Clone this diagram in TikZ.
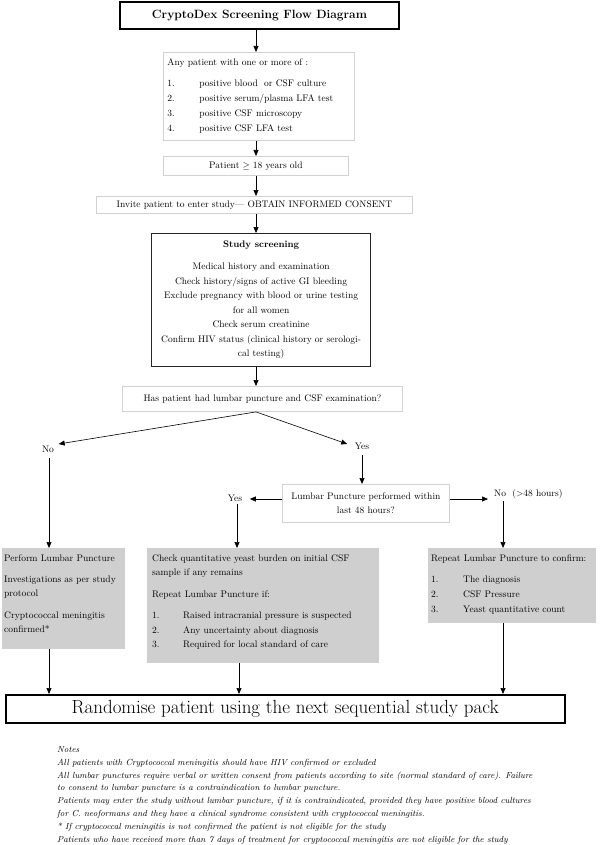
\documentclass[tikz,border=0pt]{standalone}
\usetikzlibrary{arrows.meta}
\newcommand\bodyfont{\fontsize{9.5}{14}\selectfont}
\tikzset{
  titlebox/.style={draw=black, line width=2pt, inner sep=0pt, font=\fontsize{12}{14}\selectfont\bfseries},
  lightbox/.style={draw=black!18, line width=0.9pt, inner sep=0pt, font=\bodyfont},
  darkbox/.style={draw=black!85, line width=1.2pt, inner sep=0pt},
  greybox/.style={fill=gray!38, draw=none, inner sep=0pt},
  randbox/.style={draw=black, line width=1.5pt, inner sep=0pt, font=\fontsize{19}{21}\selectfont},
  txt/.style={inner sep=0pt, align=left, font=\bodyfont},
  lab/.style={inner sep=2.5pt, font=\bodyfont},
  arr/.style={-{Triangle[length=6pt,width=5pt]}, line width=0.7pt},
  diag/.style={-{Triangle[length=6pt,width=5pt]}, line width=0.6pt}
}
\newcommand\numitem[1]{\makebox[32pt][l]{#1}}
\newcommand\numitemb[1]{\makebox[31pt][l]{#1}}
\begin{document}
\begin{tikzpicture}[x=1pt,y=-1pt]
\useasboundingbox (0,0) rectangle (600,845);
\fill[white] (0,0) rectangle (600,845);
\coordinate (ax) at (256,0);
\coordinate (ay) at (0,499);
\coordinate (d1) at (49,0);
\coordinate (d2) at (237,0);
\coordinate (d2b) at (239,0);
\coordinate (d3) at (503,0);

% title
\node[titlebox, anchor=north west, minimum width=279, minimum height=27] (title) at (119,1) {CryptoDex Screening Flow Diagram};

% criteria
\node[lightbox, anchor=north west, text width=183, inner xsep=4pt, minimum height=88, align=left, font=\fontsize{9.5}{15}\selectfont] (crit) at (163,52)
  {Any patient with one or more of :\\[6pt]
   \numitem{1.}positive blood\ \ or CSF culture\\
   \numitem{2.}positive serum/plasma LFA test\\
   \numitem{3.}positive CSF microscopy\\
   \numitem{4.}positive CSF LFA test};

\node[lightbox, anchor=north west, minimum width=185, minimum height=19] (age) at (163,156) {Patient $\geq$ 18 years old};

\node[lightbox, anchor=north west, minimum width=316, minimum height=17] (consent) at (96,196) {Invite patient to enter study--- OBTAIN INFORMED CONSENT};

\node[darkbox, anchor=north west, minimum width=219, minimum height=133, align=center, font=\fontsize{9.5}{14.5}\selectfont] (screen) at (151,233)
  {\textbf{Study screening}\\[7.5pt]
   Medical history and examination\\
   Check history/signs of active GI bleeding\\
   Exclude pregnancy with blood or urine testing\\
   for all women\\
   Check serum creatinine\\
   Confirm HIV status (clinical history or serologi-\\
   cal testing)};

\node[lightbox, anchor=north west, minimum width=280, minimum height=25] (quest) at (122,386) {Has patient had lumbar puncture and CSF examination?};

% branch labels
\node[lab] (no1) at (48,449) {No};
\node[lab] (yes1) at (362,446) {Yes};

\node[lightbox, anchor=north west, minimum width=167, minimum height=38, align=center] (lp) at (282,484) {Lumbar Puncture performed within\\ last 48 hours?};

\node[lab] (yes2) at (235,498) {Yes};
\node[lab, anchor=west] (no2) at (491.5,494) {No\ \ (>48 hours)};

% grey boxes
\node[greybox, anchor=north west, minimum width=123, minimum height=101] (g1) at (2,548) {};
\node[greybox, anchor=north west, minimum width=232, minimum height=115] (g2) at (147,548) {};
\node[greybox, anchor=north west, minimum width=168, minimum height=75] (g3) at (428,548) {};

\node[txt, anchor=north west] (g1t) at (4,555)
  {Perform Lumbar Puncture\\[7pt]
   Investigations as per study\\
   protocol\\[8pt]
   Cryptococcal meningitis\\
   confirmed*};
\node[txt, anchor=north west] (g2t) at (152,555)
  {Check quantitative yeast burden on initial CSF\\
   sample if any remains\\[8pt]
   Repeat Lumbar Puncture if:\\[7pt]
   \numitemb{1.}Raised intracranial pressure is suspected\\[0.5pt]
   \numitemb{2.}Any uncertainty about diagnosis\\[0.5pt]
   \numitemb{3.}Required for local standard of care};
\node[txt, anchor=north west] (g3t) at (431,555)
  {Repeat Lumbar Puncture to confirm:\\[7pt]
   \numitem{1.}The diagnosis\\[1pt]
   \numitem{2.}CSF Pressure\\[1pt]
   \numitem{3.}Yeast quantitative count};

\node[randbox, anchor=north west, minimum width=559, minimum height=28] (rand) at (5,694) {Randomise patient using the next sequential study pack};

% notes
\node[anchor=north west, inner sep=0pt, align=left, font=\fontsize{8.8}{12.9}\selectfont\itshape] (notes) at (57,746)
  {Notes\\
   All patients with Cryptococcal meningitis should have HIV confirmed or excluded\\
   All lumbar punctures require verbal or written consent from patients according to site (normal standard of care). Failure\\
   to consent to lumbar puncture is a contraindication to lumbar puncture.\\
   Patients may enter the study without lumbar puncture, if it is contraindicated, provided they have positive blood cultures\\
   for C. neoformans and they have a clinical syndrome consistent with cryptococcal meningitis.\\
   * If cryptococcal meningitis is not confirmed the patient is not eligible for the study\\
   Patients who have received more than 7 days of treatment for cryptococcal meningitis are not eligible for the study};

% connectors
\draw[arr] (title.south -| ax) -- (crit.north -| ax);
\draw[arr] (crit.south -| ax) -- (age.north -| ax);
\draw[arr] (age.south -| ax) -- (consent.north -| ax);
\draw[arr] (consent.south -| ax) -- (screen.north -| ax);
\draw[arr] (screen.south -| ax) -- (quest.north -| ax);
\draw[diag] (quest.south -| ax) -- ([shift={(2,-5)}]no1.east);
\draw[diag] (quest.south -| ax) -- ([shift={(-5,-2)}]yes1.west);
\draw[arr] ([shift={(0,3)}]no1.south -| d1) -- (g1.north -| d1);
\draw[arr] ([shift={(0,3)}]yes1.south) -- (lp.north -| yes1.south);
\draw[arr] (lp.west |- ay) -- ([shift={(5,0)}]yes2.east |- ay);
\draw[arr] (lp.east |- ay) -- ([shift={(-3.5,0)}]no2.west |- ay);
\draw[arr] (yes2.south -| d2) -- (g2.north -| d2);
\draw[arr] (no2.south -| d3) -- (g3.north -| d3);
\draw[arr] (g1.south -| d1) -- (rand.north -| d1);
\draw[arr] (g2.south -| d2b) -- (rand.north -| d2b);
\draw[arr] (g3.south -| d3) -- (rand.north -| d3);
\end{tikzpicture}
\end{document}
